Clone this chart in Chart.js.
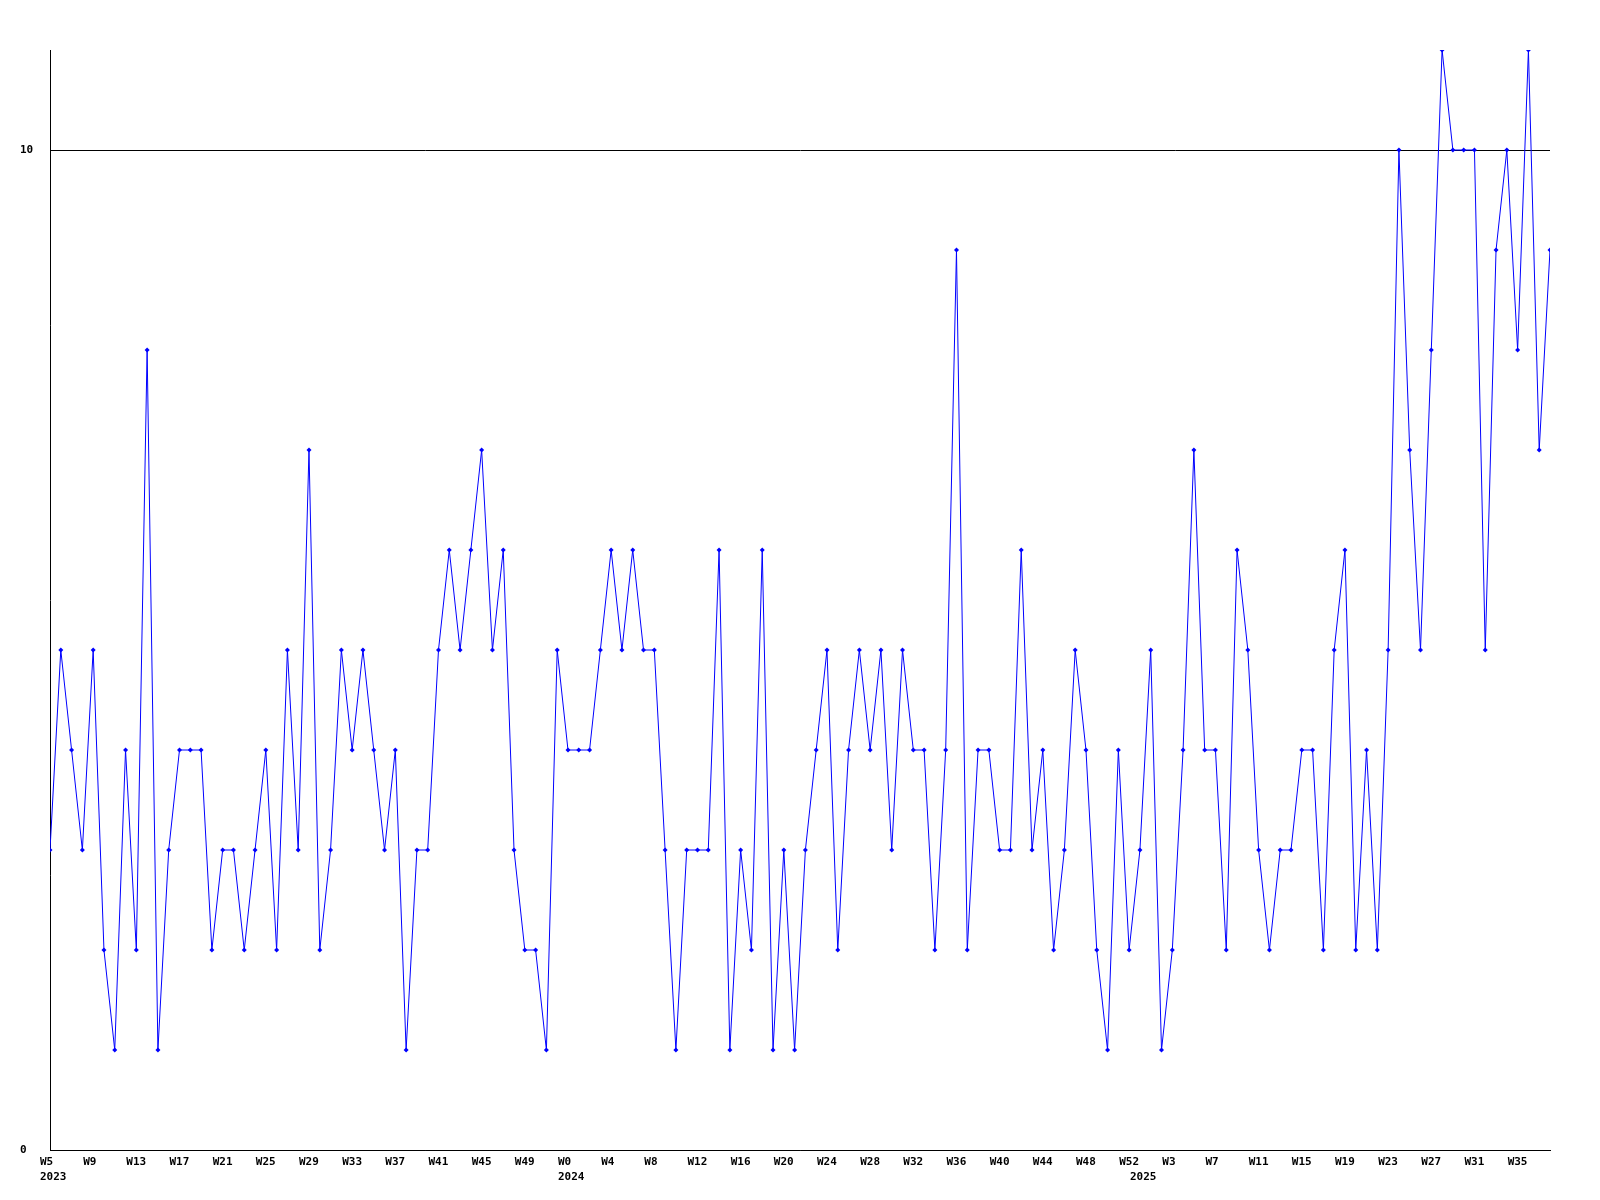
<!DOCTYPE html>
<html>
<head>
<meta charset="utf-8">
<title>Weekly count</title>
<script src="https://cdn.jsdelivr.net/npm/chart.js@4.4.1/dist/chart.umd.min.js"></script>
<style>
  html, body { margin: 0; padding: 0; background: #fff; }
  #wrap { width: 1600px; height: 1200px; }
</style>
</head>
<body>
<div id="wrap"><canvas id="weekChart" width="1600" height="1200"></canvas></div>
<script>
/* ── Data ───────────────────────────────────────────── */
// one value per week, 2023 W5 .. 2025 W38
const weekCounts = [
  3, 5, 4, 3, 5, 2, 1, 4, 2, 8, 1, 3, 4, 4, 4, 2, 3, 3, 2, 3,
  4, 2, 5, 3, 7, 2, 3, 5, 4, 5, 4, 3, 4, 1, 3, 3, 5, 6, 5, 6,
  7, 5, 6, 3, 2, 2, 1, 5, 4, 4, 4, 5, 6, 5, 6, 5, 5, 3, 1, 3,
  3, 3, 6, 1, 3, 2, 6, 1, 3, 1, 3, 4, 5, 2, 4, 5, 4, 5, 3, 5,
  4, 4, 2, 4, 9, 2, 4, 4, 3, 3, 6, 3, 4, 2, 3, 5, 4, 2, 1, 4,
  2, 3, 5, 1, 2, 4, 7, 4, 4, 2, 6, 5, 3, 2, 3, 3, 4, 4, 2, 5,
  6, 2, 4, 2, 5, 10, 7, 5, 8, 11, 10, 10, 10, 5, 9, 10, 8, 11, 7, 9
];

// x tick every 4 weeks, starting at the first point
const weekLabels = [
  'W5', 'W9', 'W13', 'W17', 'W21', 'W25', 'W29', 'W33', 'W37', 'W41', 'W45', 'W49',
  'W0', 'W4', 'W8', 'W12', 'W16', 'W20', 'W24', 'W28', 'W32', 'W36', 'W40', 'W44', 'W48', 'W52',
  'W3', 'W7', 'W11', 'W15', 'W19', 'W23', 'W27', 'W31', 'W35'
];
const yearLabels = ['2023', '2024', '2025'];
const yearStarts = [0, 48, 101];   // index of first week of each year

const yTicks = [0, 10];
const yMax = 11;

/* ── Helpers ────────────────────────────────────────── */
const FONT = { family: 'DejaVu Sans Mono', size: 11, weight: 'bold', lineHeight: 1.364 };

function xTickValues() {
  const vals = weekLabels.map((_, i) => i * 4);
  yearStarts.forEach(v => { if (!vals.includes(v)) vals.push(v); });
  return vals.sort((a, b) => a - b);
}

function xTickLabel(value) {
  const w = value % 4 === 0 ? (weekLabels[value / 4] || '') : '';
  const yi = yearStarts.indexOf(value);
  return yi >= 0 ? [w, yearLabels[yi]] : w;
}

/* ── Chart ──────────────────────────────────────────── */
function drawChart() {
  const ctx = document.getElementById('weekChart');
  new Chart(ctx, {
    type: 'line',
    data: {
      datasets: [{
        data: weekCounts.map((v, i) => ({ x: i, y: v })),
        borderColor: '#0000ff',
        backgroundColor: '#0000ff',
        borderWidth: 1,
        tension: 0,
        fill: false,
        pointStyle: 'rectRot',
        pointRadius: 2.5,
        pointBorderWidth: 0,
        pointBackgroundColor: '#0000ff'
      }]
    },
    options: {
      responsive: false,
      animation: false,
      events: [],
      layout: { padding: { top: 50, right: 50, bottom: 0, left: 20 } },
      plugins: { legend: { display: false }, tooltip: { enabled: false } },
      scales: {
        x: {
          type: 'linear',
          min: 0,
          max: weekCounts.length - 1,
          afterBuildTicks: axis => { axis.ticks = xTickValues().map(v => ({ value: v })); },
          afterFit: axis => { axis.height = 50; },
          grid: { display: false, drawTicks: false },
          border: { display: true, color: '#000', width: 1 },
          ticks: {
            autoSkip: false,
            maxRotation: 0,
            align: 'start',
            labelOffset: -10,
            padding: 5,
            color: '#000',
            font: FONT,
            callback: v => xTickLabel(v)
          }
        },
        y: {
          min: 0,
          max: yMax,
          afterBuildTicks: axis => { axis.ticks = yTicks.map(v => ({ value: v })); },
          afterFit: axis => { axis.width = 30; },
          grid: { color: '#000', lineWidth: 1, drawTicks: false },
          border: { display: true, color: '#000', width: 1 },
          ticks: {
            crossAlign: 'far',
            padding: 17,
            color: '#000',
            font: FONT,
            callback: v => String(v)
          }
        }
      }
    }
  });
}

document.addEventListener('DOMContentLoaded', drawChart);
</script>
</body>
</html>
